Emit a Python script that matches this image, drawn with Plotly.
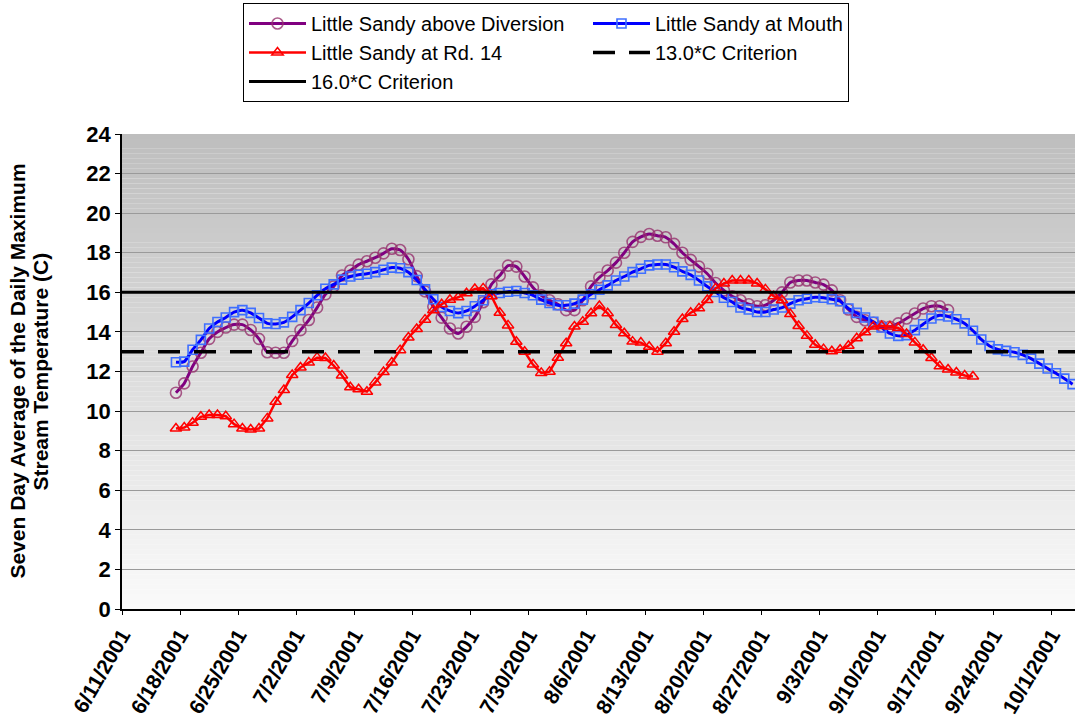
import pandas as pd
import plotly.graph_objects as go

# ---------------- data ----------------
start_date = "2001-06-17"   # first daily 7-day-average value

above_diversion = [10.93, 11.4, 12.25, 12.95, 13.65, 14.0, 14.22, 14.37, 14.37, 14.1,
                   13.65, 12.97, 12.95, 12.95, 13.54, 14.09, 14.6, 15.23, 15.9, 16.3,
                   16.85, 17.1, 17.4, 17.57, 17.75, 17.97, 18.2, 18.14, 17.67, 16.82,
                   16.05, 15.28, 14.72, 14.17, 13.92, 14.26, 14.76, 15.5, 16.4, 16.85,
                   17.35, 17.3, 16.8, 16.25, 15.85, 15.6, 15.4, 15.1, 15.1, 15.6,
                   16.3, 16.75, 17.1, 17.5, 18.0, 18.55, 18.8, 18.95, 18.86, 18.78,
                   18.45, 18.0, 17.64, 17.3, 16.94, 16.47, 16.1, 15.8, 15.6, 15.4,
                   15.3, 15.35, 15.6, 16.0, 16.5, 16.6, 16.6, 16.5, 16.39, 16.1,
                   15.6, 15.13, 14.76, 14.59, 14.46, 14.29, 14.26, 14.43, 14.68, 14.93,
                   15.18, 15.3, 15.3, 15.1]

at_mouth = [12.47, 12.5, 13.1, 13.6, 14.17, 14.5, 14.73, 15.0, 15.1, 14.96,
            14.7, 14.43, 14.4, 14.48, 14.76, 15.1, 15.46, 15.85, 16.18, 16.4,
            16.64, 16.8, 16.89, 16.94, 17.02, 17.14, 17.25, 17.22, 17.02, 16.62,
            16.15, 15.65, 15.26, 15.06, 14.95, 15.06, 15.3, 15.6, 15.9, 15.97,
            16.03, 16.07, 15.97, 15.85, 15.63, 15.46, 15.35, 15.35, 15.43, 15.63,
            15.9, 16.13, 16.35, 16.6, 16.8, 17.02, 17.19, 17.36, 17.41, 17.41,
            17.27, 17.06, 16.88, 16.6, 16.3, 16.02, 15.73, 15.51, 15.23, 15.13,
            15.01, 15.01, 15.13, 15.23, 15.43, 15.6, 15.68, 15.75, 15.73, 15.65,
            15.55, 15.18, 14.96, 14.73, 14.51, 14.22, 13.92, 13.8, 13.84, 14.09,
            14.39, 14.68, 14.84, 14.78, 14.64, 14.43, 14.06, 13.62, 13.29, 13.12,
            13.04, 12.97, 12.84, 12.65, 12.4, 12.15, 11.91, 11.64, 11.36]

at_rd14 = [9.12, 9.17, 9.41, 9.71, 9.8, 9.8, 9.74, 9.34, 9.12, 9.07,
           9.12, 9.63, 10.47, 11.06, 11.82, 12.2, 12.45, 12.7, 12.68, 12.3,
           11.8, 11.2, 11.1, 10.98, 11.45, 11.97, 12.45, 13.08, 13.72, 14.15,
           14.62, 15.1, 15.4, 15.62, 15.75, 15.95, 16.17, 16.2, 15.8, 14.97,
           14.33, 13.5, 13.0, 12.35, 11.93, 11.99, 12.7, 13.43, 14.27, 14.52,
           14.94, 15.31, 14.94, 14.35, 13.93, 13.51, 13.46, 13.25, 13.0, 13.43,
           14.01, 14.65, 14.97, 15.19, 15.61, 16.2, 16.45, 16.6, 16.6, 16.6,
           16.45, 16.15, 15.8, 15.6, 14.9, 14.3, 13.8, 13.35, 13.13, 13.02,
           13.1, 13.3, 13.68, 13.98, 14.28, 14.3, 14.28, 14.2, 13.9, 13.47,
           13.1, 12.68, 12.26, 12.1, 11.95, 11.8, 11.75]

criterion_dates = ["2001-06-11", "2001-10-15"]
criterion_13 = [13.0, 13.0]
criterion_16 = [16.0, 16.0]

series_names = ["Little Sandy above Diversion", "Little Sandy at Mouth",
                "Little Sandy at Rd. 14", "13.0*C Criterion", "16.0*C Criterion"]

y_title_lines = ["Seven Day Average of the Daily Maximum", "Stream Temperature (C)"]


def day_dates(n):
    # Excel date axis: each daily value sits in the middle of its day
    return pd.date_range(start_date, periods=n, freq="D") + pd.Timedelta(hours=12)


FONT = "Liberation Sans, Arial, sans-serif"

fig = go.Figure()

fig.add_trace(go.Scatter(
    x=day_dates(len(above_diversion)), y=above_diversion, name=series_names[0],
    legendwidth=272,
    mode="lines+markers", line=dict(color="#800080", width=3, shape="spline", smoothing=0.6),
    marker=dict(symbol="circle-open", size=11, color="rgba(150,50,110,0.8)",
                line=dict(width=1.6, color="rgba(150,50,110,0.8)"))))

fig.add_trace(go.Scatter(
    x=day_dates(len(at_mouth)), y=at_mouth, name=series_names[1],
    mode="lines+markers", line=dict(color="#0000FF", width=3, shape="spline", smoothing=0.6),
    marker=dict(symbol="square-open", size=9, color="#3F6FFF",
                line=dict(width=1.6, color="#3F6FFF"))))

fig.add_trace(go.Scatter(
    x=day_dates(len(at_rd14)), y=at_rd14, name=series_names[2],
    mode="lines+markers", line=dict(color="#FF0000", width=2.5),
    marker=dict(symbol="triangle-up-open", size=10, color="#FF0000",
                line=dict(width=1.5, color="#FF0000"))))

fig.add_trace(go.Scatter(
    x=pd.to_datetime(criterion_dates), y=criterion_13, name=series_names[3],
    mode="lines", line=dict(color="black", width=3.5, dash="22px,14px")))

fig.add_trace(go.Scatter(
    x=pd.to_datetime(criterion_dates), y=criterion_16, name=series_names[4],
    mode="lines", line=dict(color="black", width=3)))

# vertical gray-to-white gradient of the plot area
n_bands = 96
top_rgb, bot_rgb = (190, 190, 190), (250, 250, 250)
shapes = []
for i in range(n_bands):
    f = i / (n_bands - 1)
    c = tuple(round(bot_rgb[k] + (top_rgb[k] - bot_rgb[k]) * f) for k in range(3))
    shapes.append(dict(type="rect", xref="paper", yref="y", x0=0, x1=1,
                       y0=24 * i / n_bands, y1=24 * (i + 1) / n_bands,
                       fillcolor="rgb(%d,%d,%d)" % c, line=dict(width=0), layer="below"))

W, H = 1075, 721
ml, mr, mt, mb = 122, 0, 134, 112
pw, ph = W - ml - mr, H - mt - mb

annotations = []
for text, px in zip(y_title_lines, [17, 40]):
    annotations.append(dict(text="<b>%s</b>" % text, xref="paper", yref="paper",
                            x=(px - ml) / pw, y=0.5, xanchor="center", yanchor="middle",
                            textangle=-90, showarrow=False,
                            font=dict(family=FONT, size=21, color="black")))

fig.update_layout(
    width=W, height=H,
    margin=dict(l=ml, r=mr, t=mt, b=mb, autoexpand=False),
    paper_bgcolor="white", plot_bgcolor="white",
    shapes=shapes, annotations=annotations,
    font=dict(family=FONT, color="black"),
    showlegend=True,
    legend=dict(orientation="h", x=(243 - ml) / pw, y=(H - mb - 3) / ph,
                xanchor="left", yanchor="top", bgcolor="white",
                bordercolor="black", borderwidth=1, itemwidth=57,
                font=dict(family=FONT, size=20, color="black"),
                traceorder="normal"),
    xaxis=dict(type="date", range=["2001-06-11", "2001-10-03 19:00"],
               tick0="2001-06-11", dtick=7 * 86400000, tickformat="%-m/%-d/%Y",
               tickangle=-60, tickfont=dict(family=FONT, size=21, weight="bold"),
               automargin=False,
               showgrid=False, zeroline=False, showline=True, linecolor="black",
               linewidth=1.5, ticks="outside", ticklen=4, tickcolor="black"),
    yaxis=dict(range=[0, 24], dtick=2, tick0=0, automargin=False,
               tickfont=dict(family=FONT, size=22, weight="bold"),
               showgrid=True, gridcolor="#9a9a9a", gridwidth=1,
               zeroline=False, showline=True, linecolor="black", linewidth=1.5,
               ticks="outside", ticklen=5, tickcolor="black"),
)

fig.write_html("out.html", config={"displayModeBar": False},
               post_script="document.body.style.margin='0';document.body.style.overflow='hidden';")
